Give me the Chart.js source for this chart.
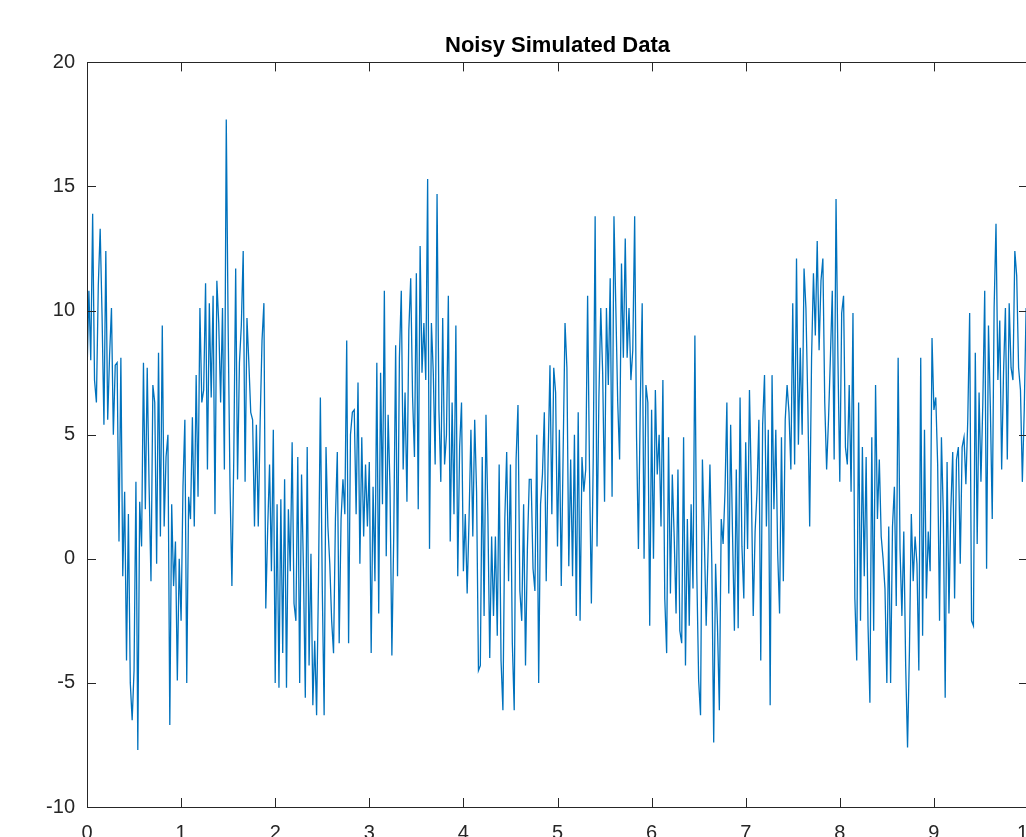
<!DOCTYPE html>
<html>
<head>
<meta charset="utf-8">
<title>Noisy Simulated Data</title>
<script src="https://cdn.jsdelivr.net/npm/chart.js@4.4.1/dist/chart.umd.min.js"></script>
<style>
    html, body { margin: 0; padding: 0; background: #fff; overflow: hidden; }
    #wrap { position: relative; width: 1046px; height: 860px; }
</style>
</head>
<body>
<div id="wrap"><canvas id="noisyChart" width="1046" height="860"></canvas></div>
<script>
const segStarts = [0, 0.96, 1.90, 2.84, 3.78, 4.72, 5.64, 6.58, 7.52, 8.46];
const tStep = 0.02;

const seg0 = [7.4, 10.8, 8.0, 13.9, 7.2, 6.3, 11.0, 13.3, 9.8, 5.4,
    12.4, 5.6, 8.2, 10.1, 5.0, 7.8, 7.9, 0.7, 8.1, -0.7,
    2.7, -4.1, 1.8, -5.0, -6.5, -4.5, 3.1, -7.7, 2.3, 0.5,
    7.9, 2.0, 7.7, 2.9, -0.9, 7.0, 6.3, -0.2, 8.3, 0.9,
    9.4, 1.3, 4.1, 5.0, -6.7, 2.2, -1.1, 0.7];
const seg1 = [-4.9, 0.0, -2.5, 2.9, 5.6, -5.0, 2.5, 1.6, 5.7, 1.3,
    7.4, 2.5, 10.1, 6.3, 6.8, 11.1, 3.6, 10.3, 6.5, 10.6,
    1.8, 11.2, 9.5, 6.3, 10.1, 3.6, 17.7, 9.3, 2.9, -1.1,
    4.1, 11.7, 3.2, 7.9, 9.4, 12.4, 3.1, 9.7, 7.9, 5.9,
    5.6, 1.3, 5.4, 1.3, 5.5, 8.8, 10.3];
const seg2 = [-2.0, 1.2, 3.8, -0.5, 5.2, -5.0, 2.2, -5.2, 2.4, -3.8,
    3.2, -5.2, 2.0, -0.5, 4.7, -1.8, -2.5, 4.1, -5.0, 3.4,
    -0.4, -5.6, 4.5, -4.3, 0.2, -5.9, -3.3, -6.3, -0.9, 6.5,
    -1.1, -6.3, 4.5, 1.3, -0.2, -2.5, -3.8, 1.6, 4.3, -3.4,
    1.6, 3.2, 1.8, 8.8, -3.4, 5.0, 5.9];
const seg3 = [6.0, 1.8, 7.1, -0.2, 4.9, 0.9, 3.8, 1.3, 3.9, -3.8,
    2.9, -0.9, 7.9, -2.2, 7.5, 2.2, 10.8, 0.1, 5.8, 2.9,
    -3.9, 1.0, 8.6, -0.7, 8.1, 10.8, 3.6, 6.7, 2.3, 9.2,
    11.3, 6.5, 4.1, 11.5, 2.0, 12.6, 7.5, 9.5, 7.2, 15.3,
    0.4, 9.5, 7.5, 3.8, 14.7, 6.0, 3.1];
const seg4 = [9.7, 3.8, 5.0, 10.6, 0.7, 6.3, 1.8, 9.4, -0.7, 4.5,
    6.3, -0.5, 1.8, -1.4, 1.6, 5.2, 0.9, 5.6, 2.7, -4.5,
    -4.3, 4.1, -2.3, 5.8, 1.8, -4.0, 0.9, -2.3, 0.9, -3.1,
    3.8, -4.1, -6.1, 1.6, 4.3, -0.9, 3.8, -3.4, -6.1, 4.0,
    6.2, -1.3, -2.5, 2.2, -4.3, 0.4, 3.2];
const seg5 = [3.2, -0.4, -1.3, 5.0, -5.0, 2.2, 3.4, 5.9, -0.9, 4.0,
    7.8, 1.8, 7.7, 6.7, 0.5, 5.2, -1.1, 4.3, 9.5, 7.7,
    -0.3, 4.0, -0.7, 5.0, -2.3, 5.9, -2.5, 4.1, 2.7, 3.6,
    10.6, 3.6, -1.8, 4.1, 13.8, 0.5, 6.5, 10.1, 7.5, 2.3,
    10.1, 7.0, 11.3, 2.5, 13.8, 10.1];
const seg6 = [6.3, 4.0, 11.9, 8.1, 12.9, 8.1, 10.1, 7.2, 8.4, 13.8,
    4.9, 0.4, 6.3, 10.3, 0.0, 7.0, 6.3, -2.7, 6.0, 0.0,
    6.8, 3.4, 5.0, 1.3, 7.2, -1.6, -3.8, 4.9, -1.4, 3.4,
    0.9, -2.2, 3.6, -2.9, -3.4, 4.9, -4.3, 1.6, -2.7, 2.2,
    -1.2, 9.0, -0.5, -4.9, -6.3, 4.0, 0.9];
const seg7 = [-2.7, 0.3, 3.8, -0.2, -7.4, -0.2, -2.7, -6.1, 1.6, 0.6,
    2.7, 6.3, -1.4, 5.4, 1.0, -2.9, 3.6, -2.8, 6.5, 0.5,
    -1.6, 4.7, 0.4, 6.8, 2.9, -2.3, 1.1, 2.7, 5.6, -4.1,
    5.4, 7.4, 1.3, 5.2, -5.9, 7.4, 2.0, 5.2, 0.2, -2.2,
    4.9, -0.9, 5.6, 7.0, 5.9, 3.6, 10.3];
const seg8 = [3.8, 12.1, 4.6, 8.5, 5.0, 11.7, 10.1, 6.3, 1.3, 8.1,
    11.5, 9.0, 12.8, 8.4, 11.2, 12.1, 6.3, 3.6, 5.6, 8.1,
    10.8, 4.0, 14.5, 8.1, 3.1, 9.9, 10.6, 4.5, 3.8, 7.0,
    2.7, 9.9, -1.6, -4.1, 6.3, -2.5, 4.5, -0.7, 4.1, -2.7,
    -5.8, 4.9, -2.9, 7.0, 1.6, 4.0, 0.9];
const seg9 = [0.0, -1.2, -5.0, 1.3, -5.0, 1.3, 2.9, -1.9, 8.1, 0.4,
    -2.3, 1.1, -4.3, -7.6, -3.7, 1.8, -0.9, 0.9, -0.2, -4.5,
    8.1, -3.1, 5.2, -1.6, 1.1, -0.5, 8.9, 6.0, 6.5, 3.8,
    -2.5, 4.9, 1.8, -5.6, 3.9, -2.2, 2.0, 4.3, -1.6, 4.0,
    4.5, -0.2, 4.5, 4.9, 3.0, 5.6, 9.9, -2.5, -2.7, 8.3,
    0.6, 6.7, 3.1, 6.3, 10.8, -0.4, 9.4, 6.1, 1.6, 10.1,
    13.5, 7.2, 9.6, 3.6, 7.5, 10.1, 4.0, 10.3, 7.7, 7.2,
    12.4, 11.4, 7.7, 6.8, 3.1, 6.0, 10.1, 7.0];

const xTicks = [0, 1, 2, 3, 4, 5, 6, 7, 8, 9, 10];
const yTicks = [-10, -5, 0, 5, 10, 15, 20];

const segments = [seg0, seg1, seg2, seg3, seg4, seg5, seg6, seg7, seg8, seg9];
const points = [];
segments.forEach((seg, s) => {
    seg.forEach((v, k) => points.push({ x: segStarts[s] + k * tStep, y: v }));
});

const axisColor = '#262626';
const fontFamily = "'Liberation Sans', Arial, Helvetica, sans-serif";
const tickLen = 9;

// MATLAB style box with inward ticks on all four sides
const matlabBox = {
    id: 'matlabBox',
    afterDraw(chart) {
        const { ctx, chartArea: a, scales } = chart;
        ctx.save();
        ctx.strokeStyle = axisColor;
        ctx.lineWidth = 1;
        ctx.beginPath();
        ctx.rect(Math.round(a.left) + 0.5, Math.round(a.top) + 0.5,
            Math.round(a.right - a.left), Math.round(a.bottom - a.top));
        scales.x.ticks.forEach(t => {
            const px = Math.round(scales.x.getPixelForValue(t.value)) + 0.5;
            ctx.moveTo(px, a.bottom); ctx.lineTo(px, a.bottom - tickLen);
            ctx.moveTo(px, a.top); ctx.lineTo(px, a.top + tickLen);
        });
        scales.y.ticks.forEach(t => {
            const py = Math.round(scales.y.getPixelForValue(t.value)) + 0.5;
            ctx.moveTo(a.left, py); ctx.lineTo(a.left + tickLen, py);
            ctx.moveTo(a.right, py); ctx.lineTo(a.right - tickLen, py);
        });
        ctx.stroke();
        ctx.restore();
    }
};

const ctx = document.getElementById('noisyChart').getContext('2d');
new Chart(ctx, {
    type: 'line',
    data: {
        datasets: [{
            label: 'signal',
            data: points,
            borderColor: '#0072BD',
            borderWidth: 1.3,
            pointRadius: 0,
            tension: 0,
            fill: false
        }]
    },
    options: {
        responsive: false,
        animation: false,
        layout: { padding: { top: 0, right: 18, bottom: 0, left: 0 } },
        scales: {
            x: {
                type: 'linear',
                min: 0,
                max: 10,
                afterBuildTicks: scale => { scale.ticks = xTicks.map(v => ({ value: v })); },
                afterFit: scale => { scale.height = 53; scale.paddingLeft = 0; scale.paddingRight = 0; },
                grid: { display: false },
                border: { display: false },
                ticks: { color: axisColor, padding: 6, maxRotation: 0, font: { family: fontFamily, size: 20 } }
            },
            y: {
                min: -10,
                max: 20,
                afterBuildTicks: scale => { scale.ticks = yTicks.map(v => ({ value: v })); },
                afterFit: scale => { scale.width = 87; },
                grid: { display: false },
                border: { display: false },
                ticks: { color: axisColor, padding: 4, font: { family: fontFamily, size: 20 } }
            }
        },
        plugins: {
            legend: { display: false },
            tooltip: { enabled: false },
            title: {
                display: true,
                text: 'Noisy Simulated Data',
                fullSize: false,
                color: '#000',
                padding: { top: 33, bottom: 3 },
                font: { family: fontFamily, size: 22, weight: 'bold' }
            }
        }
    },
    plugins: [matlabBox]
});
</script>
</body>
</html>
